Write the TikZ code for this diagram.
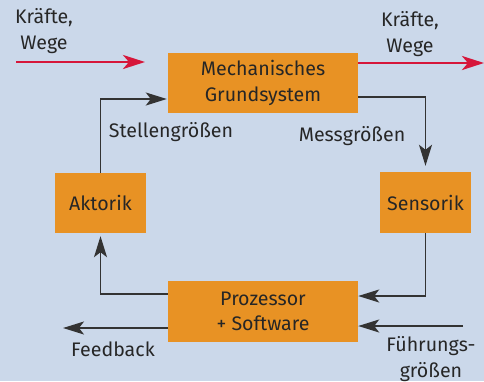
\documentclass[tikz,border=0pt]{standalone}
\usepackage{fontspec}
\setmainfont{Fira Sans}
\usepackage{tikz}
\usetikzlibrary{arrows.meta, positioning, calc}

\definecolor{hgblau}{RGB}{203,216,234}
\definecolor{kastenorange}{RGB}{232,146,36}
\definecolor{kraftrot}{RGB}{214,22,58}
\definecolor{liniegrau}{RGB}{51,51,51}

\begin{document}
\begin{tikzpicture}[
                x=1pt, y=-1pt,
                font=\fontsize{19.6}{25.5}\selectfont,
                kasten/.style={fill=kastenorange, align=center, text=black!85, inner sep=0pt},
                signal/.style={draw=liniegrau, line width=1.6pt, -{Stealth[length=21pt, width=13pt, inset=5pt]}},
                kraft/.style={draw=kraftrot, line width=2.8pt, -{Stealth[length=22pt, width=14pt, inset=6pt]}},
                beschr/.style={align=center, text=black!85}
            ]

            % Hintergrund
            \fill[hgblau] (0,0) rectangle (484,381);
            \useasboundingbox (0,0) rectangle (484,381);

            % Kaesten
            \node[kasten, minimum width=190pt, minimum height=60pt] (mech) at (263,83) {Mechanisches\\Grundsystem};
            \node[kasten, minimum width=91pt, minimum height=60pt] (akt) at (100.5,203) {Aktorik};
            \node[kasten, minimum width=91pt, minimum height=61pt] (sens) at (425.5,202.5) {Sensorik};
            \node[kasten, minimum width=190pt, minimum height=61pt] (proz) at (263,311.5) {Prozessor\\+ Software};

            % freie Enden
            \coordinate (kin) at (16,62);
            \coordinate (kinend) at (145,62);
            \coordinate (kout) at (484,63);
            \coordinate (feed) at (63,328);
            \coordinate (fuehr) at (463,326);

            % Kraefte, Wege
            \draw[kraft] (kin) -- (kinend);
            \draw[kraft] (mech.east |- kout) -- (kout);

            % Regelkreis
            \draw[signal] (akt.north) |- ($(mech.west)+(-1,16)$);
            \draw[signal, shorten >=6pt] ($(mech.east)+(0,14)$) -| (sens.north);
            \draw[signal] (sens.south) |- ($(proz.east)+(0,-15.5)$);
            \draw[signal, shorten >=3pt] ($(proz.west)+(0,-17.5)$) -| (akt.south);
            \draw[signal] ($(proz.west)+(0,16.5)$) -- (feed);
            \draw[signal] (fuehr) -- ($(proz.east)+(0,14.5)$);

            % Beschriftungen
            \node[beschr] (kinlab) at (44,31) {Kräfte,\\Wege};
            \node[beschr] (koutlab) at (410,34) {Kräfte,\\Wege};
            \node[beschr] (stelllab) at (171,132) {Stellengrößen};
            \node[beschr] (messlab) at (352,136) {Messgrößen};
            \node[beschr] (feedlab) at (113,349) {Feedback};
            \node[beschr] (fuehrlab) at (431,359) {Führungs-\\größen};

        \end{tikzpicture}
\end{document}
